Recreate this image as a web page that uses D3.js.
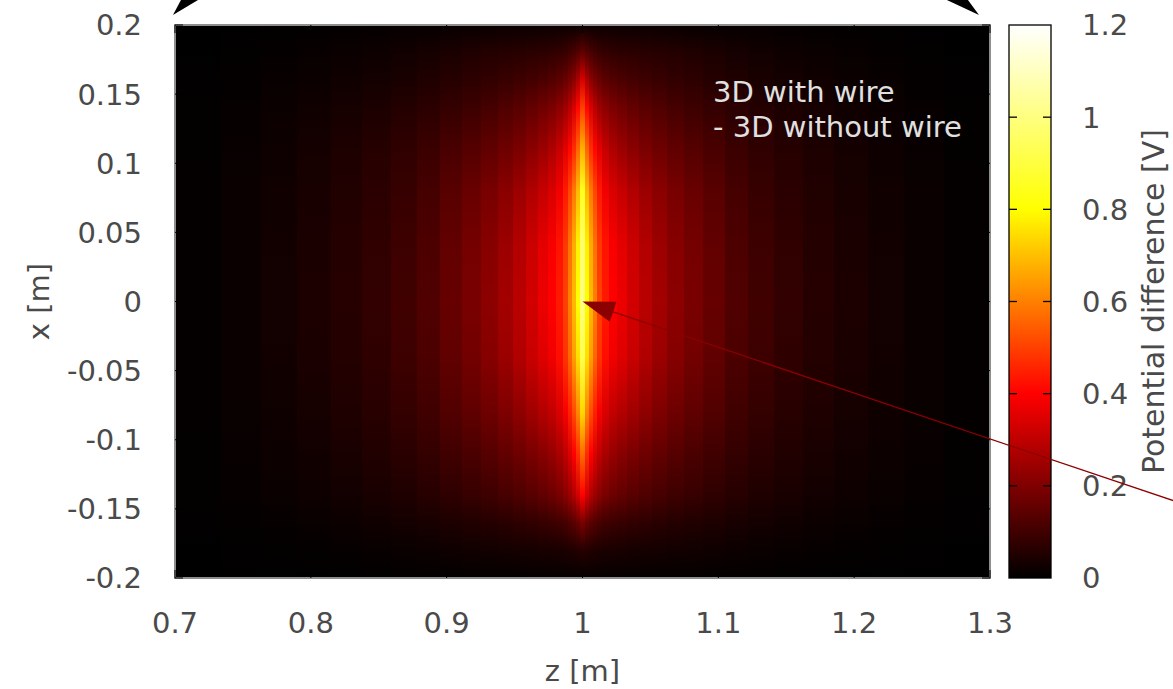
<!DOCTYPE html>
<html>
<head>
<meta charset="utf-8">
<script src="https://cdn.jsdelivr.net/npm/d3@7"></script>
<style>
  body { margin: 0; background: #fff; }
  svg { display: block; }
  text { font-family: "DejaVu Sans", sans-serif; }
</style>
</head>
<body>
<svg id="chart" width="1173" height="689"></svg>
<script>
// Grid cell boundaries along z [m] (fine near the wire at z = 1)
const zEdges = [0.7, 0.734, 0.763, 0.79, 0.815, 0.838, 0.859, 0.878, 0.895, 0.911, 0.925, 0.9375,
  0.9485, 0.9585, 0.9675, 0.9745, 0.9805, 0.9855, 0.9895, 0.9925, 0.9955, 0.9985,
  1.0015, 1.0045, 1.0075, 1.0105, 1.0145, 1.0195, 1.0255, 1.0325, 1.0415, 1.0515, 1.0625,
  1.075, 1.089, 1.105, 1.122, 1.141, 1.162, 1.185, 1.21, 1.237, 1.266, 1.3];

// Sample positions along x [m]
const xRows = [0.2, 0.18, 0.16, 0.14, 0.11, 0.08, 0.04, 0, -0.04, -0.08, -0.11, -0.14, -0.16, -0.18, -0.2];

// Potential difference [V]: one row per x sample, one value per z cell
const potential = [
  [0.001,0.002,0.003,0.004,0.005,0.006,0.008,0.009,0.011,0.012,0.013,0.014,0.015,0.015,0.016,0.016,0.016,0.016,0.016,0.016,0.016, 0.016, 0.016,0.016,0.016,0.016,0.016,0.016,0.016,0.015,0.015,0.014,0.013,0.012,0.011,0.009,0.008,0.006,0.005,0.004,0.003,0.002,0.001],
  [0.002,0.005,0.008,0.012,0.017,0.022,0.028,0.035,0.043,0.05,0.056,0.06,0.063,0.067,0.071,0.076,0.082,0.09,0.1,0.115,0.13, 0.15, 0.13,0.115,0.1,0.09,0.082,0.076,0.071,0.067,0.063,0.06,0.056,0.05,0.043,0.035,0.028,0.022,0.017,0.012,0.008,0.005,0.002],
  [0.003,0.007,0.012,0.018,0.025,0.032,0.04,0.05,0.06,0.07,0.079,0.088,0.097,0.107,0.118,0.13,0.145,0.165,0.19,0.22,0.27, 0.34, 0.27,0.22,0.19,0.165,0.145,0.13,0.118,0.107,0.097,0.088,0.079,0.07,0.06,0.05,0.04,0.032,0.025,0.018,0.012,0.007,0.003],
  [0.004,0.01,0.017,0.025,0.034,0.044,0.056,0.068,0.082,0.096,0.11,0.125,0.14,0.157,0.175,0.195,0.22,0.25,0.29,0.34,0.41, 0.5, 0.41,0.34,0.29,0.25,0.22,0.195,0.175,0.157,0.14,0.125,0.11,0.096,0.082,0.068,0.056,0.044,0.034,0.025,0.017,0.01,0.004],
  [0.005,0.013,0.022,0.033,0.045,0.059,0.075,0.093,0.114,0.133,0.152,0.172,0.193,0.218,0.245,0.275,0.31,0.36,0.41,0.47,0.56, 0.68, 0.56,0.47,0.41,0.36,0.31,0.275,0.245,0.218,0.193,0.172,0.152,0.133,0.114,0.093,0.075,0.059,0.045,0.033,0.022,0.013,0.005],
  [0.006,0.015,0.025,0.037,0.051,0.067,0.086,0.108,0.138,0.163,0.188,0.217,0.245,0.278,0.31,0.34,0.38,0.44,0.51,0.59,0.69, 0.85, 0.69,0.59,0.51,0.44,0.38,0.34,0.31,0.278,0.245,0.217,0.188,0.163,0.138,0.108,0.086,0.067,0.051,0.037,0.025,0.015,0.006],
  [0.007,0.017,0.029,0.042,0.058,0.075,0.096,0.12,0.154,0.183,0.212,0.245,0.28,0.32,0.36,0.39,0.43,0.49,0.58,0.67,0.78, 0.97, 0.78,0.67,0.58,0.49,0.43,0.39,0.36,0.32,0.28,0.245,0.212,0.183,0.154,0.12,0.096,0.075,0.058,0.042,0.029,0.017,0.007],
  [0.007,0.018,0.03,0.044,0.06,0.078,0.1,0.125,0.16,0.19,0.22,0.255,0.29,0.33,0.37,0.4,0.44,0.5,0.6,0.69,0.8, 1.0, 0.8,0.69,0.6,0.5,0.44,0.4,0.37,0.33,0.29,0.255,0.22,0.19,0.16,0.125,0.1,0.078,0.06,0.044,0.03,0.018,0.007],
  [0.007,0.017,0.029,0.042,0.057,0.074,0.095,0.119,0.152,0.181,0.21,0.243,0.277,0.315,0.35,0.38,0.42,0.48,0.56,0.65,0.75, 0.92, 0.75,0.65,0.56,0.48,0.42,0.38,0.35,0.315,0.277,0.243,0.21,0.181,0.152,0.119,0.095,0.074,0.057,0.042,0.029,0.017,0.007],
  [0.006,0.014,0.024,0.035,0.048,0.063,0.081,0.101,0.128,0.151,0.173,0.198,0.224,0.252,0.28,0.305,0.34,0.39,0.45,0.52,0.61, 0.74, 0.61,0.52,0.45,0.39,0.34,0.305,0.28,0.252,0.224,0.198,0.173,0.151,0.128,0.101,0.081,0.063,0.048,0.035,0.024,0.014,0.006],
  [0.005,0.012,0.02,0.029,0.04,0.052,0.066,0.082,0.101,0.118,0.135,0.153,0.172,0.193,0.214,0.237,0.265,0.3,0.345,0.4,0.47, 0.57, 0.47,0.4,0.345,0.3,0.265,0.237,0.214,0.193,0.172,0.153,0.135,0.118,0.101,0.082,0.066,0.052,0.04,0.029,0.02,0.012,0.005],
  [0.004,0.009,0.015,0.022,0.03,0.039,0.049,0.061,0.074,0.086,0.098,0.111,0.124,0.138,0.153,0.17,0.19,0.215,0.245,0.28,0.33, 0.4, 0.33,0.28,0.245,0.215,0.19,0.17,0.153,0.138,0.124,0.111,0.098,0.086,0.074,0.061,0.049,0.039,0.03,0.022,0.015,0.009,0.004],
  [0.003,0.006,0.01,0.014,0.019,0.025,0.031,0.038,0.045,0.052,0.058,0.065,0.072,0.079,0.086,0.093,0.101,0.112,0.125,0.14,0.16, 0.19, 0.16,0.14,0.125,0.112,0.101,0.093,0.086,0.079,0.072,0.065,0.058,0.052,0.045,0.038,0.031,0.025,0.019,0.014,0.01,0.006,0.003],
  [0.001,0.003,0.005,0.007,0.01,0.013,0.016,0.019,0.023,0.026,0.029,0.031,0.033,0.035,0.037,0.039,0.041,0.044,0.047,0.05,0.055, 0.06, 0.055,0.05,0.047,0.044,0.041,0.039,0.037,0.035,0.033,0.031,0.029,0.026,0.023,0.019,0.016,0.013,0.01,0.007,0.005,0.003,0.001],
  [0,0.001,0.001,0.002,0.002,0.003,0.004,0.004,0.005,0.006,0.006,0.007,0.007,0.008,0.008,0.008,0.008,0.008,0.008,0.008,0.008, 0.008, 0.008,0.008,0.008,0.008,0.008,0.008,0.008,0.008,0.007,0.007,0.006,0.006,0.005,0.004,0.004,0.003,0.002,0.002,0.001,0.001,0]
];

const zTicks = [0.7, 0.8, 0.9, 1.0, 1.1, 1.2, 1.3];
const xTicks = [0.2, 0.15, 0.1, 0.05, 0, -0.05, -0.1, -0.15, -0.2];
const cbTicks = [0, 0.2, 0.4, 0.6, 0.8, 1.0, 1.2];
const labelLines = ["3D with wire", "- 3D without wire"];

// Arrow pointing at the wire centre (data coordinates: [z, x])
const pointerArrow = { tip: [1.0, 0.0], tail: [1.45, -0.149] };
// Arrowheads at the top corners, each given by its tip and the directions of its two edges (deg)
const cornerArrows = [
  { tip: [0.6985, 0.2072], edges: [-62, -31] },
  { tip: [1.2919, 0.2072], edges: [-154.9, -126.3] }
];

const svg = d3.select("#chart");
const plot = { left: 175, right: 990, top: 25, bottom: 578 };
const cbar = { left: 1009, right: 1051, top: 25, bottom: 578 };
const fontSize = 29;
const textColor = "#4a4a4a";

const zScale = d3.scaleLinear().domain([0.7, 1.3]).range([plot.left, plot.right]);
const xScale = d3.scaleLinear().domain([-0.2, 0.2]).range([plot.bottom, plot.top]);
const cScale = d3.scaleLinear().domain([0, 1.2]).range([cbar.bottom, cbar.top]);
// "hot" palette: black -> red -> yellow -> white
const color = d3.scaleLinear()
  .domain([0, 0.4, 0.8, 1.2])
  .range(["#000000", "#ff0000", "#ffff00", "#ffffff"])
  .clamp(true);

const fmt = v => String(+v.toFixed(2));
const defs = svg.append("defs");

// Heat map: each z cell is a column whose vertical gradient follows its x samples
const columns = d3.range(zEdges.length - 1).map(j => ({
  j, z0: zEdges[j], z1: zEdges[j + 1],
  values: potential.map(row => row[j])
}));

columns.forEach(c => {
  const g = defs.append("linearGradient")
    .attr("id", "col" + c.j)
    .attr("gradientUnits", "userSpaceOnUse")
    .attr("x1", 0).attr("x2", 0)
    .attr("y1", xScale(0.2)).attr("y2", xScale(-0.2));
  xRows.forEach((xv, i) => {
    g.append("stop")
      .attr("offset", (xScale(xv) - xScale(0.2)) / (xScale(-0.2) - xScale(0.2)))
      .attr("stop-color", color(c.values[i]));
  });
});

svg.append("g").attr("shape-rendering", "crispEdges")
  .selectAll("rect").data(columns).join("rect")
  .attr("x", d => Math.round(zScale(d.z0)))
  .attr("width", d => Math.round(zScale(d.z1)) - Math.round(zScale(d.z0)))
  .attr("y", xScale(0.2))
  .attr("height", xScale(-0.2) - xScale(0.2))
  .attr("fill", d => `url(#col${d.j})`);

// Plot border
svg.append("rect")
  .attr("x", plot.left).attr("y", plot.top)
  .attr("width", plot.right - plot.left).attr("height", plot.bottom - plot.top)
  .attr("fill", "none").attr("stroke", "#8e8e8e").attr("stroke-width", 2);

// Inward ticks on all four sides
const tk = 8;
const ticks = svg.append("g").attr("stroke", "#000").attr("stroke-width", 1);
zTicks.forEach(z => {
  ticks.append("line").attr("x1", zScale(z)).attr("x2", zScale(z)).attr("y1", plot.bottom).attr("y2", plot.bottom - tk);
  ticks.append("line").attr("x1", zScale(z)).attr("x2", zScale(z)).attr("y1", plot.top).attr("y2", plot.top + tk);
});
xTicks.forEach(x => {
  ticks.append("line").attr("x1", plot.left).attr("x2", plot.left + tk).attr("y1", xScale(x)).attr("y2", xScale(x));
  ticks.append("line").attr("x1", plot.right).attr("x2", plot.right - tk).attr("y1", xScale(x)).attr("y2", xScale(x));
});

// Tick labels
svg.append("g").selectAll("text").data(zTicks).join("text")
  .attr("x", d => zScale(d)).attr("y", 633)
  .attr("text-anchor", "middle").attr("font-size", fontSize).attr("fill", textColor)
  .text(fmt);
svg.append("g").selectAll("text").data(xTicks).join("text")
  .attr("x", 142).attr("y", d => xScale(d)).attr("dy", "0.36em")
  .attr("text-anchor", "end").attr("font-size", fontSize).attr("fill", textColor)
  .text(fmt);

// Axis titles
svg.append("text").attr("x", zScale(1.0)).attr("y", 681)
  .attr("text-anchor", "middle").attr("font-size", fontSize).attr("fill", textColor)
  .text("z [m]");
svg.append("text").attr("transform", `translate(49,${xScale(0)}) rotate(-90)`)
  .attr("text-anchor", "middle").attr("font-size", fontSize).attr("fill", textColor)
  .text("x [m]");

// Key text inside the plot
svg.append("g").selectAll("text").data(labelLines).join("text")
  .attr("x", 713).attr("y", (d, i) => 102 + i * 35)
  .attr("font-size", fontSize).attr("fill", "#e0e0e0")
  .text(d => d);

// Colour bar
const cg = defs.append("linearGradient").attr("id", "cbgrad")
  .attr("x1", 0).attr("x2", 0).attr("y1", 1).attr("y2", 0);
color.domain().forEach(v => {
  cg.append("stop").attr("offset", v / 1.2).attr("stop-color", color(v));
});
svg.append("rect")
  .attr("x", cbar.left).attr("y", cbar.top)
  .attr("width", cbar.right - cbar.left).attr("height", cbar.bottom - cbar.top)
  .attr("fill", "url(#cbgrad)").attr("stroke", "#000").attr("stroke-width", 1.3);
const cbt = svg.append("g").attr("stroke", "#000").attr("stroke-width", 1.3);
cbTicks.slice(1, -1).forEach(v => {
  cbt.append("line").attr("x1", cbar.left).attr("x2", cbar.left + tk).attr("y1", cScale(v)).attr("y2", cScale(v));
  cbt.append("line").attr("x1", cbar.right).attr("x2", cbar.right - tk).attr("y1", cScale(v)).attr("y2", cScale(v));
});
svg.append("g").selectAll("text").data(cbTicks).join("text")
  .attr("x", 1082).attr("y", d => cScale(d)).attr("dy", "0.36em")
  .attr("font-size", fontSize).attr("fill", textColor)
  .text(fmt);
svg.append("text").attr("transform", `translate(1164,${xScale(0)}) rotate(-90)`)
  .attr("text-anchor", "middle").attr("font-size", 30).attr("fill", textColor)
  .text("Potential difference [V]");

// Pointer arrow to the wire centre
{
  const tx = zScale(pointerArrow.tip[0]), ty = xScale(pointerArrow.tip[1]);
  const sx = zScale(pointerArrow.tail[0]), sy = xScale(pointerArrow.tail[1]);
  const a = Math.atan2(sy - ty, sx - tx);
  const L = 34, h = 18 * Math.PI / 180;
  const p1 = [tx + L * Math.cos(a - h), ty + L * Math.sin(a - h)];
  const p2 = [tx + L * Math.cos(a + h), ty + L * Math.sin(a + h)];
  const bx = tx + L * Math.cos(h) * Math.cos(a), by = ty + L * Math.cos(h) * Math.sin(a);
  svg.append("line").attr("x1", sx).attr("y1", sy).attr("x2", bx).attr("y2", by)
    .attr("stroke", "#8b0000").attr("stroke-width", 1.2);
  svg.append("path").attr("d", d3.line()([[tx, ty], p1, p2]) + "Z").attr("fill", "#8b0000");
}

// Arrowheads at the top corners
cornerArrows.forEach(ar => {
  const tx = zScale(ar.tip[0]), ty = xScale(ar.tip[1]);
  const L = 60;
  const pts = [[tx, ty]].concat(ar.edges.map(e => {
    const r = e * Math.PI / 180;
    return [tx + L * Math.cos(r), ty + L * Math.sin(r)];
  }));
  svg.append("path").attr("d", d3.line()(pts) + "Z").attr("fill", "#000");
});
</script>
</body>
</html>
